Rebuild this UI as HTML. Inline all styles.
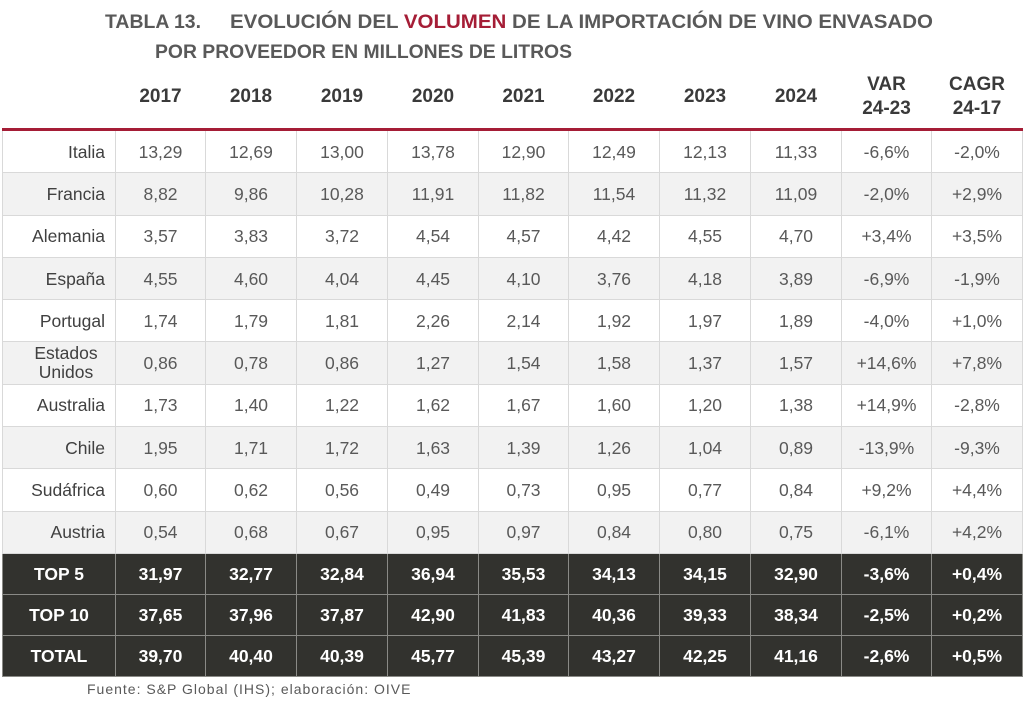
<!DOCTYPE html>
<html><head><meta charset="utf-8"><style>
body{margin:0;width:1024px;height:724px;background:#fff;position:relative;overflow:hidden;font-family:"Liberation Sans",sans-serif;color:#595959}
table{position:absolute;left:2px;top:66px;border-collapse:collapse;table-layout:fixed}
td{font-size:17.5px;text-align:center;padding:0;border:1px solid #d9d9d9;white-space:nowrap;line-height:20px}
tr.h td{border:none;font-weight:bold;color:#3a3a3a;font-size:19px;height:62px;border-bottom:3px solid #a51d36;line-height:24px}
tr.d td{height:41.3px}
tr.g td{background:#f2f2f2}
td.n{text-align:right;padding-right:10px;color:#404040}
tr.k td{background:#32322e;color:#fff;font-weight:bold;height:40px;border:1px solid #8a8a86}
tr.k td.n{text-align:center;color:#fff;padding:0}
.f{position:absolute;left:87px;top:681px;font-size:14px;letter-spacing:1px;color:#595959}
</style></head><body>
<svg style="position:absolute;left:0;top:0" width="1024" height="70">
<text x="105" y="28" font-family="Liberation Sans" font-weight="bold" font-size="19" fill="#595959" textLength="96" lengthAdjust="spacingAndGlyphs">TABLA 13.</text>
<text x="230" y="28" font-family="Liberation Sans" font-weight="bold" font-size="19" fill="#595959" textLength="703" lengthAdjust="spacingAndGlyphs">EVOLUCIÓN DEL <tspan fill="#a51d36">VOLUMEN</tspan> DE LA IMPORTACIÓN DE VINO ENVASADO</text>
<text x="155" y="58" font-family="Liberation Sans" font-weight="bold" font-size="19" fill="#595959" textLength="417" lengthAdjust="spacingAndGlyphs">POR PROVEEDOR EN MILLONES DE LITROS</text>
</svg>
<table>
<colgroup><col style="width:113px"><col style="width:90px"><col style="width:91px"><col style="width:91px"><col style="width:91px"><col style="width:90px"><col style="width:91px"><col style="width:91px"><col style="width:91px"><col style="width:90px"><col style="width:91px"></colgroup>
<tr class="h"><td></td><td>2017</td><td>2018</td><td>2019</td><td>2020</td><td>2021</td><td>2022</td><td>2023</td><td>2024</td><td>VAR<br>24-23</td><td>CAGR<br>24-17</td></tr>
<tr class="d"><td class="n">Italia</td><td>13,29</td><td>12,69</td><td>13,00</td><td>13,78</td><td>12,90</td><td>12,49</td><td>12,13</td><td>11,33</td><td>-6,6%</td><td>-2,0%</td></tr>
<tr class="d g"><td class="n">Francia</td><td>8,82</td><td>9,86</td><td>10,28</td><td>11,91</td><td>11,82</td><td>11,54</td><td>11,32</td><td>11,09</td><td>-2,0%</td><td>+2,9%</td></tr>
<tr class="d"><td class="n">Alemania</td><td>3,57</td><td>3,83</td><td>3,72</td><td>4,54</td><td>4,57</td><td>4,42</td><td>4,55</td><td>4,70</td><td>+3,4%</td><td>+3,5%</td></tr>
<tr class="d g"><td class="n">España</td><td>4,55</td><td>4,60</td><td>4,04</td><td>4,45</td><td>4,10</td><td>3,76</td><td>4,18</td><td>3,89</td><td>-6,9%</td><td>-1,9%</td></tr>
<tr class="d"><td class="n">Portugal</td><td>1,74</td><td>1,79</td><td>1,81</td><td>2,26</td><td>2,14</td><td>1,92</td><td>1,97</td><td>1,89</td><td>-4,0%</td><td>+1,0%</td></tr>
<tr class="d g"><td class="n" style="text-align:center;padding:0 0 0 14px;line-height:19px">Estados<br>Unidos</td><td>0,86</td><td>0,78</td><td>0,86</td><td>1,27</td><td>1,54</td><td>1,58</td><td>1,37</td><td>1,57</td><td>+14,6%</td><td>+7,8%</td></tr>
<tr class="d"><td class="n">Australia</td><td>1,73</td><td>1,40</td><td>1,22</td><td>1,62</td><td>1,67</td><td>1,60</td><td>1,20</td><td>1,38</td><td>+14,9%</td><td>-2,8%</td></tr>
<tr class="d g"><td class="n">Chile</td><td>1,95</td><td>1,71</td><td>1,72</td><td>1,63</td><td>1,39</td><td>1,26</td><td>1,04</td><td>0,89</td><td>-13,9%</td><td>-9,3%</td></tr>
<tr class="d"><td class="n">Sudáfrica</td><td>0,60</td><td>0,62</td><td>0,56</td><td>0,49</td><td>0,73</td><td>0,95</td><td>0,77</td><td>0,84</td><td>+9,2%</td><td>+4,4%</td></tr>
<tr class="d g"><td class="n">Austria</td><td>0,54</td><td>0,68</td><td>0,67</td><td>0,95</td><td>0,97</td><td>0,84</td><td>0,80</td><td>0,75</td><td>-6,1%</td><td>+4,2%</td></tr>
<tr class="k"><td class="n">TOP 5</td><td>31,97</td><td>32,77</td><td>32,84</td><td>36,94</td><td>35,53</td><td>34,13</td><td>34,15</td><td>32,90</td><td>-3,6%</td><td>+0,4%</td></tr>
<tr class="k"><td class="n">TOP 10</td><td>37,65</td><td>37,96</td><td>37,87</td><td>42,90</td><td>41,83</td><td>40,36</td><td>39,33</td><td>38,34</td><td>-2,5%</td><td>+0,2%</td></tr>
<tr class="k"><td class="n">TOTAL</td><td>39,70</td><td>40,40</td><td>40,39</td><td>45,77</td><td>45,39</td><td>43,27</td><td>42,25</td><td>41,16</td><td>-2,6%</td><td>+0,5%</td></tr>
</table>
<div class="f">Fuente: S&amp;P Global (IHS); elaboración: OIVE</div>
</body></html>
